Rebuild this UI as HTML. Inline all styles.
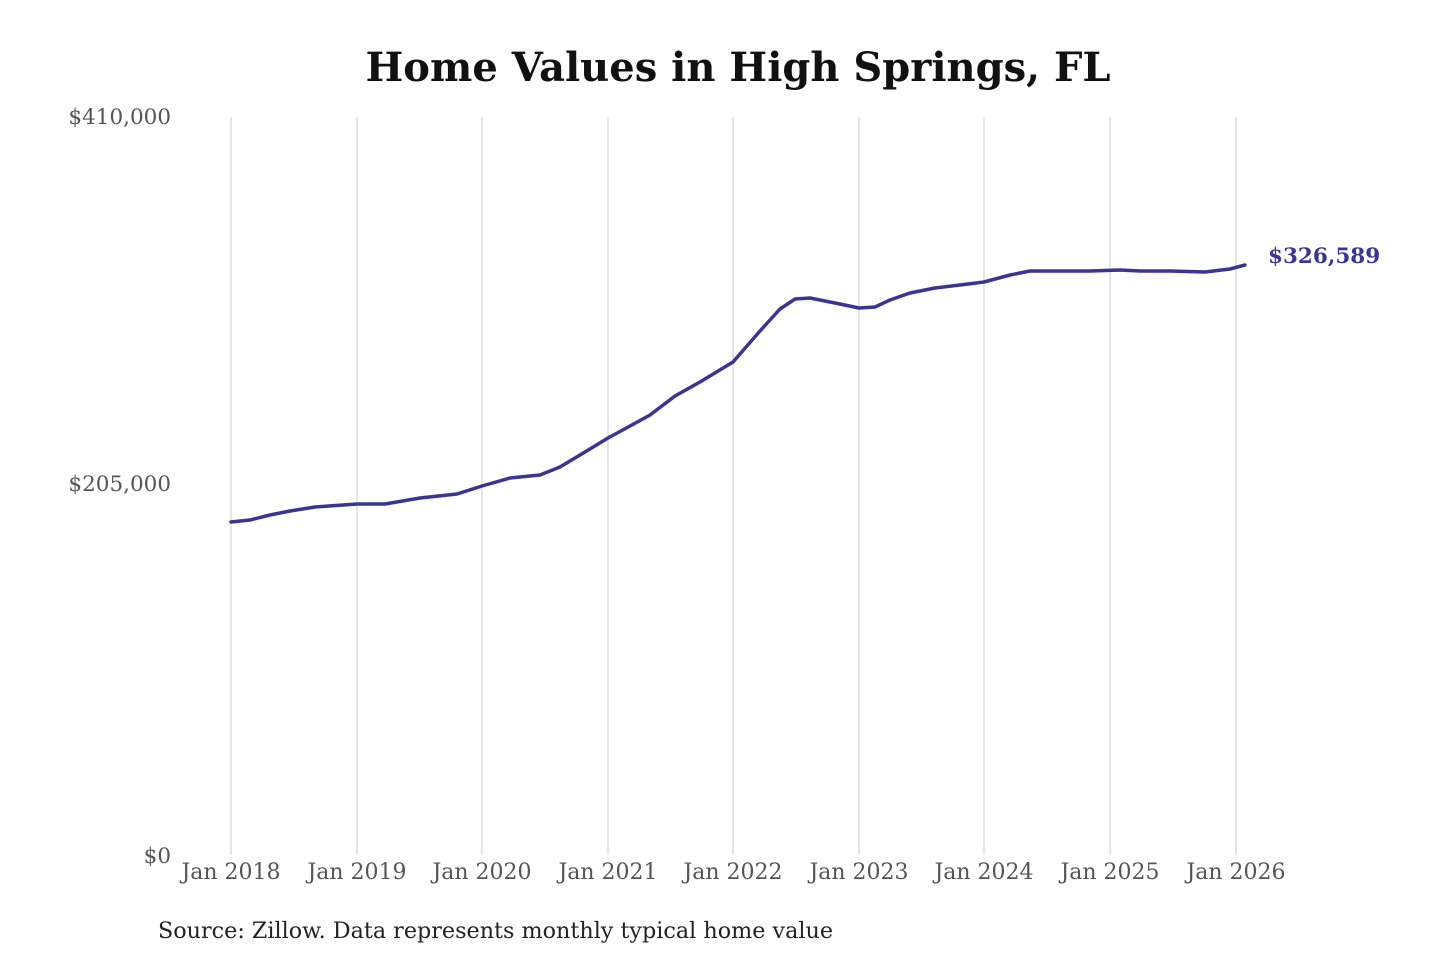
<!DOCTYPE html>
<html><head><meta charset="utf-8"><style>
html,body{margin:0;padding:0;background:#fff;}
svg{display:block;}
text{font-family:"DejaVu Serif","Liberation Serif",serif;}
</style></head><body>
<svg width="1440" height="960" viewBox="0 0 1440 960" xmlns="http://www.w3.org/2000/svg">
<rect width="1440" height="960" fill="#fff"/>
<text x="738" y="81" text-anchor="middle" font-size="40" font-weight="bold" fill="#111" textLength="745" lengthAdjust="spacingAndGlyphs">Home Values in High Springs, FL</text>
<g stroke="#cccccc" stroke-width="1">
<line x1="231" y1="117" x2="231" y2="855"/>
<line x1="357" y1="117" x2="357" y2="855"/>
<line x1="482" y1="117" x2="482" y2="855"/>
<line x1="608" y1="117" x2="608" y2="855"/>
<line x1="733" y1="117" x2="733" y2="855"/>
<line x1="859" y1="117" x2="859" y2="855"/>
<line x1="984" y1="117" x2="984" y2="855"/>
<line x1="1110" y1="117" x2="1110" y2="855"/>
<line x1="1236" y1="117" x2="1236" y2="855"/>
</g>
<g font-size="21.5" fill="#555" text-anchor="end">
<text x="171" y="124">$410,000</text>
<text x="171" y="491">$205,000</text>
<text x="171" y="863">$0</text>
</g>
<g font-size="22" fill="#555" text-anchor="middle">
<text x="231" y="879">Jan 2018</text>
<text x="357" y="879">Jan 2019</text>
<text x="482" y="879">Jan 2020</text>
<text x="608" y="879">Jan 2021</text>
<text x="733" y="879">Jan 2022</text>
<text x="859" y="879">Jan 2023</text>
<text x="984" y="879">Jan 2024</text>
<text x="1110" y="879">Jan 2025</text>
<text x="1236" y="879">Jan 2026</text>
</g>
<polyline fill="none" stroke="#3a3594" stroke-width="3.5" stroke-linejoin="round" stroke-linecap="round"
points="231,522 250,520 270,515 290,511 315,507 357,504 385,504 420,498 457,494 482,486 510,478 540,475 560,467 585,452 608,438 630,426 650,415 675,396 700,382 733,362 760,331 780,309 795,299 810,298 835,303 859,308 875,307 890,300 910,293 935,288 960,285 984,282 1010,275 1030,271 1060,271 1090,271 1120,270 1140,271 1170,271 1205,272 1230,269 1245,265"/>
<text x="1268" y="263" font-size="21.5" font-weight="bold" fill="#3a3594">$326,589</text>
<text x="158" y="938" font-size="22" fill="#222" textLength="675" lengthAdjust="spacingAndGlyphs">Source: Zillow. Data represents monthly typical home value</text>
</svg>
</body></html>
